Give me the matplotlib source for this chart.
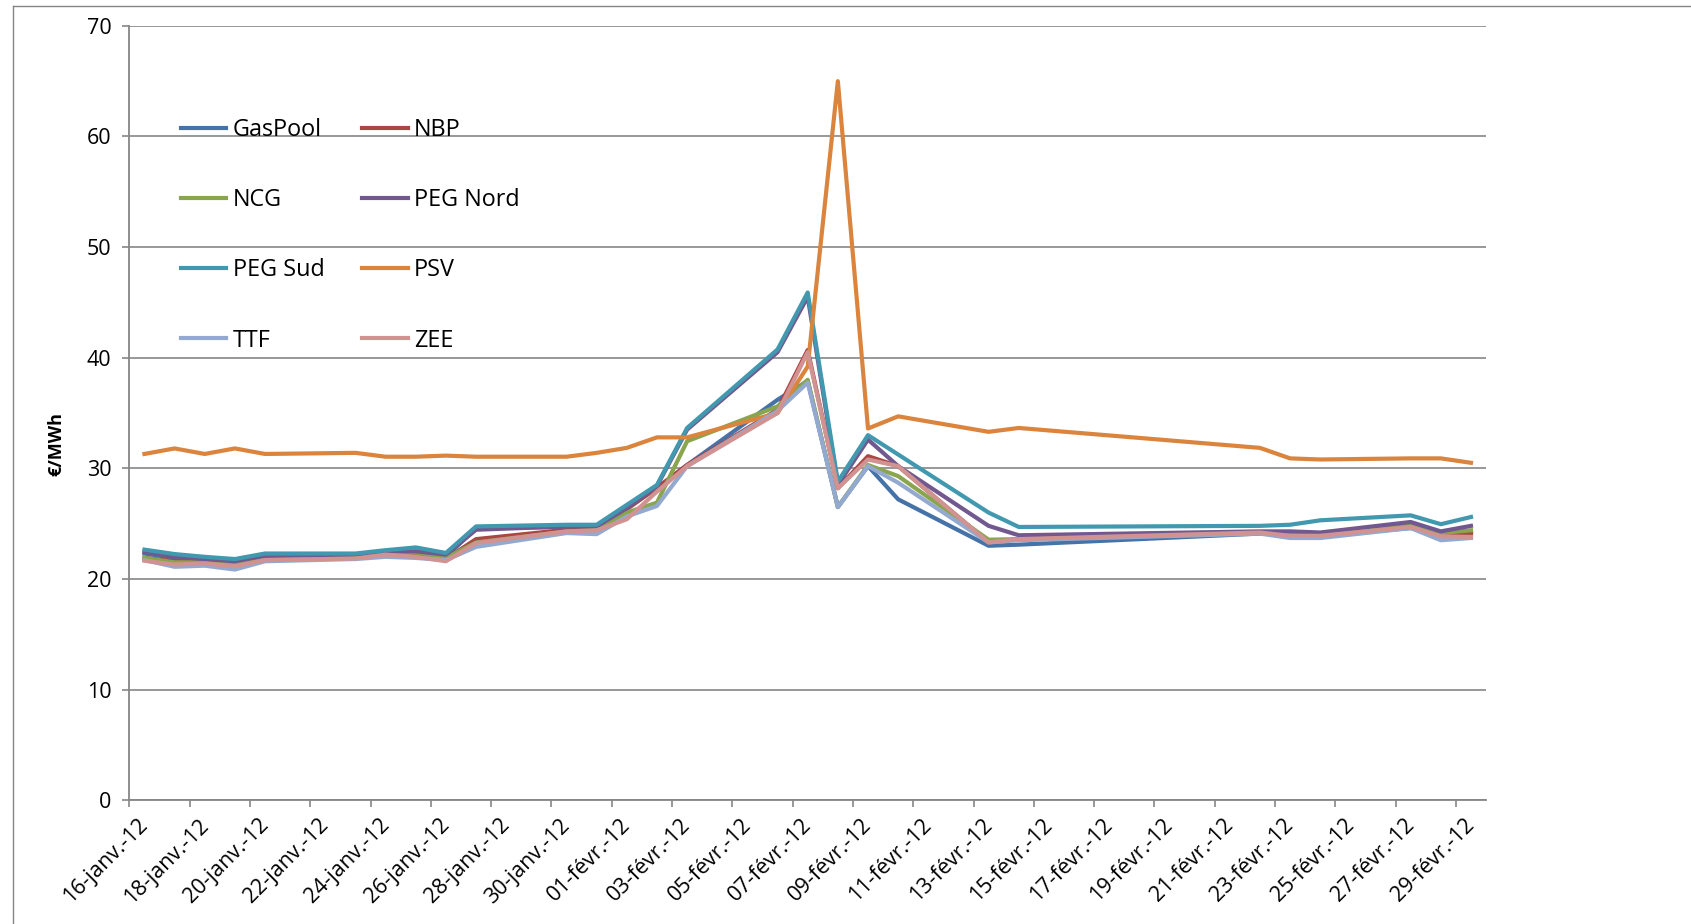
import numpy as np
import pandas as pd
import matplotlib
matplotlib.use('agg')
import matplotlib.pyplot as plt
import matplotlib.transforms as mtransforms
from matplotlib.lines import Line2D

# trading days (points sit in the middle of each day)
dates = ['2012-01-16', '2012-01-17', '2012-01-18', '2012-01-19', '2012-01-20',
         '2012-01-23', '2012-01-24', '2012-01-25', '2012-01-26', '2012-01-27',
         '2012-01-30', '2012-01-31', '2012-02-01', '2012-02-02', '2012-02-03',
         '2012-02-06', '2012-02-07', '2012-02-08', '2012-02-09', '2012-02-10',
         '2012-02-13', '2012-02-14', '2012-02-22', '2012-02-23', '2012-02-24',
         '2012-02-27', '2012-02-28', '2012-02-29']

gaspool = [22.3, 21.9, 21.7, 21.6, 22.1, 22.2, 22.3, 22.4, 22.0, 24.6, 24.7, 24.7, 26.5, 28.2,
           30.3, 36.2, 37.9, 26.5, 30.2, 27.2, 23.0, 23.1, 24.1, 24.0, 23.9, 24.6, 24.0, 24.3]
nbp = [21.9, 21.6, 21.5, 21.4, 22.0, 22.05, 22.4, 22.3, 21.8, 23.6, 24.45, 24.5, 26.3, 28.25,
       30.3, 35.3, 40.7, 28.2, 31.1, 30.2, 23.3, 23.6, 24.2, 24.1, 24.0, 24.8, 24.0, 24.1]
ncg = [21.9, 21.5, 21.5, 21.3, 21.9, 22.0, 22.3, 22.4, 21.9, 23.3, 24.3, 24.4, 26.0, 26.9,
       32.45, 35.6, 38.0, 26.5, 30.3, 29.3, 23.55, 23.6, 24.2, 24.1, 24.0, 24.9, 24.15, 24.4]
peg_nord = [22.45, 22.0, 21.8, 21.6, 22.1, 22.2, 22.5, 22.5, 22.2, 24.45, 24.75, 24.75, 26.4, 28.4,
            33.5, 40.5, 45.5, 28.5, 32.6, 30.2, 24.8, 23.95, 24.3, 24.3, 24.2, 25.15, 24.3, 24.8]
peg_sud = [22.65, 22.25, 22.0, 21.8, 22.3, 22.3, 22.6, 22.85, 22.35, 24.75, 24.9, 24.9, 26.7, 28.5,
           33.65, 40.75, 45.9, 28.8, 33.0, 31.25, 26.0, 24.7, 24.8, 24.9, 25.3, 25.75, 24.95, 25.6]
psv = [31.3, 31.8, 31.3, 31.8, 31.3, 31.4, 31.05, 31.05, 31.15, 31.05, 31.05, 31.4, 31.85, 32.8,
       32.8, 35.0, 39.2, 65.0, 33.6, 34.7, 33.3, 33.65, 31.85, 30.9, 30.8, 30.9, 30.9, 30.5]
ttf = [21.7, 21.1, 21.2, 20.85, 21.6, 21.8, 22.0, 21.9, 21.7, 22.9, 24.15, 24.05, 25.65, 26.6,
       30.2, 35.2, 37.75, 26.5, 30.2, 28.7, 23.3, 23.5, 24.1, 23.7, 23.7, 24.6, 23.5, 23.7]
zee = [21.65, 21.3, 21.4, 21.15, 21.7, 21.85, 22.2, 22.0, 21.6, 23.25, 24.3, 24.4, 25.4, 27.9,
       30.2, 35.0, 40.5, 28.2, 30.8, 30.2, 23.3, 23.6, 24.2, 23.9, 23.9, 24.7, 23.85, 23.8]

names = ['GasPool', 'NBP', 'NCG', 'PEG Nord', 'PEG Sud', 'PSV', 'TTF', 'ZEE']
series = [gaspool, nbp, ncg, peg_nord, peg_sud, psv, ttf, zee]
colors = ['#4572A7', '#AA4643', '#89A54E', '#71588F', '#4198AF', '#DB843D', '#93A9CF', '#D19392']

tick_labels = ['16-janv.-12', '18-janv.-12', '20-janv.-12', '22-janv.-12', '24-janv.-12',
               '26-janv.-12', '28-janv.-12', '30-janv.-12', '01-févr.-12', '03-févr.-12',
               '05-févr.-12', '07-févr.-12', '09-févr.-12', '11-févr.-12', '13-févr.-12',
               '15-févr.-12', '17-févr.-12', '19-févr.-12', '21-févr.-12', '23-févr.-12',
               '25-févr.-12', '27-févr.-12', '29-févr.-12']
tick_dates = pd.date_range('2012-01-16', '2012-02-29', freq='2D')

plt.rcParams['font.family'] = ['Open Sans', 'DejaVu Sans']
grey = '#868686'

fig = plt.figure(figsize=(16.91, 9.24), dpi=100)
ax = fig.add_axes([0.0765, 0.134, 0.8023, 0.838])

x = pd.to_datetime(dates) + pd.Timedelta(hours=12)
lines = []
for name, vals, c in zip(names, series, colors):
	ln, = ax.plot(x, vals, color=c, lw=3.0, label=name)
	lines.append(ln)

ax.set_xlim(pd.Timestamp('2012-01-16'), pd.Timestamp('2012-03-01'))
ax.set_ylim(0, 70)
ax.set_yticks(np.arange(0, 71, 10))
ax.set_xticks(tick_dates)
ax.set_xticklabels(tick_labels, rotation=45, ha='right', va='top', rotation_mode='anchor')

ax.grid(axis='y', color=grey, lw=1.2)
ax.set_axisbelow(True)
for s in ['top', 'right']:
	ax.spines[s].set_visible(False)
for s in ['left', 'bottom']:
	ax.spines[s].set_color(grey)
	ax.spines[s].set_linewidth(1.3)
ax.tick_params(axis='both', colors=grey, length=5, width=1.2, labelcolor='black')
ax.tick_params(axis='y', pad=8, labelsize=15.5)
ax.tick_params(axis='x', pad=8, labelsize=15.5)

# shift the rotated date labels so their ends sit right of the ticks
offset = mtransforms.ScaledTranslation(0.08, 0.035, fig.dpi_scale_trans)
for lab in ax.get_xticklabels():
	lab.set_transform(lab.get_transform() + offset)

ax.set_ylabel('€/MWh', fontsize=13, fontweight='bold')
ax.yaxis.set_label_coords(-0.047, 0.46)

# legend: two columns, row order as in the original
leg_kw = dict(loc='upper left', frameon=False, fontsize=16.8, handlelength=1.95, handletextpad=0.28,
	labelspacing=1.98, borderpad=0, borderaxespad=0)
leg1 = ax.legend(lines[0::2], names[0::2], bbox_to_anchor=(0.038, 0.881), **leg_kw)
ax.add_artist(leg1)
leg2 = ax.legend(lines[1::2], names[1::2], bbox_to_anchor=(0.1715, 0.881), **leg_kw)

# chart area border (left and top)
fig.add_artist(Line2D([13 / 1691, 13 / 1691], [0, 1 - 5.5 / 924], transform=fig.transFigure, color=grey, lw=1))
fig.add_artist(Line2D([13 / 1691, 1], [1 - 5.5 / 924, 1 - 5.5 / 924], transform=fig.transFigure, color=grey, lw=1))

plt.savefig('out.png', dpi=100)
